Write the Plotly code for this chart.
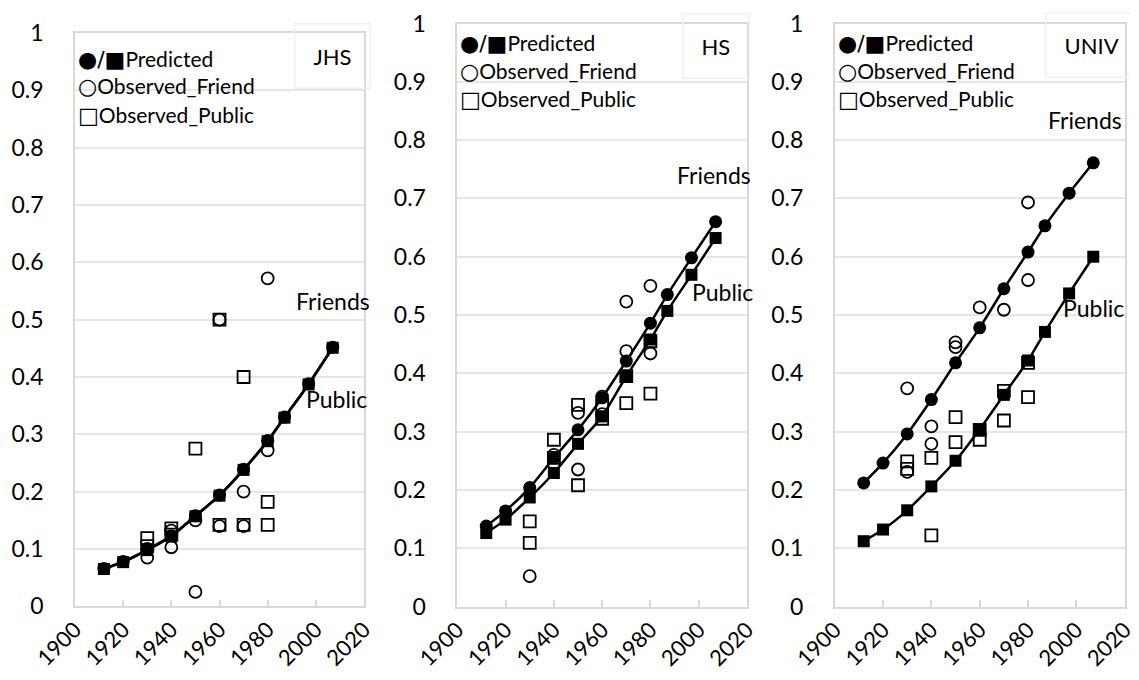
import plotly.graph_objects as go

# ---------------- data ----------------
years_pred = [1912, 1920, 1930, 1940, 1950, 1960, 1970, 1980, 1987, 1997, 2007]

jhs_pred_friend = [0.066, 0.078, 0.099, 0.123, 0.158, 0.194, 0.239, 0.289, 0.330, 0.388, 0.452]
jhs_pred_public = [0.065, 0.077, 0.098, 0.122, 0.157, 0.193, 0.238, 0.288, 0.329, 0.387, 0.451]
jhs_obs_friend_years = [1930, 1930, 1940, 1940, 1950, 1950, 1960, 1960, 1970, 1970, 1980, 1980]
jhs_obs_friend = [0.085, 0.100, 0.103, 0.132, 0.025, 0.150, 0.500, 0.140, 0.200, 0.140, 0.572, 0.272]
jhs_obs_public_years = [1930, 1930, 1940, 1940, 1950, 1960, 1960, 1970, 1970, 1980, 1980]
jhs_obs_public = [0.119, 0.105, 0.136, 0.125, 0.275, 0.500, 0.142, 0.400, 0.142, 0.182, 0.142]

hs_pred_friend = [0.138, 0.164, 0.204, 0.255, 0.303, 0.358, 0.421, 0.486, 0.535, 0.598, 0.660]
hs_pred_public = [0.126, 0.149, 0.187, 0.229, 0.279, 0.326, 0.395, 0.458, 0.507, 0.569, 0.632]
hs_obs_friend_years = [1930, 1940, 1940, 1950, 1950, 1960, 1960, 1970, 1970, 1980, 1980]
hs_obs_friend = [0.052, 0.260, 0.245, 0.332, 0.235, 0.360, 0.330, 0.523, 0.438, 0.550, 0.434]
hs_obs_public_years = [1930, 1930, 1940, 1940, 1950, 1950, 1960, 1960, 1970, 1970, 1980, 1980]
hs_obs_public = [0.146, 0.109, 0.286, 0.255, 0.346, 0.208, 0.345, 0.322, 0.349, 0.395, 0.455, 0.365]

univ_pred_friend = [0.212, 0.246, 0.296, 0.355, 0.418, 0.478, 0.545, 0.608, 0.653, 0.709, 0.761]
univ_pred_public = [0.112, 0.132, 0.165, 0.206, 0.250, 0.304, 0.363, 0.422, 0.471, 0.537, 0.600]
univ_obs_friend_years = [1930, 1930, 1940, 1940, 1950, 1950, 1960, 1970, 1980, 1980]
univ_obs_friend = [0.374, 0.231, 0.309, 0.279, 0.453, 0.445, 0.513, 0.509, 0.693, 0.560]
univ_obs_public_years = [1930, 1930, 1940, 1940, 1950, 1950, 1960, 1960, 1970, 1970, 1980, 1980]
univ_obs_public = [0.249, 0.236, 0.255, 0.122, 0.325, 0.282, 0.303, 0.286, 0.370, 0.319, 0.418, 0.359]

panel_names = ["JHS", "HS", "UNIV"]
x_ticks = [1900, 1920, 1940, 1960, 1980, 2000, 2020]
y_ticks = [0, 0.1, 0.2, 0.3, 0.4, 0.5, 0.6, 0.7, 0.8, 0.9, 1]
y_tick_text = ["0", "0.1", "0.2", "0.3", "0.4", "0.5", "0.6", "0.7", "0.8", "0.9", "1"]
legend_symbols = ["●/■", "○", "□"]
legend_labels = ["Predicted", "Observed_Friend", "Observed_Public"]

panels = [
    (jhs_pred_friend, jhs_pred_public, jhs_obs_friend_years, jhs_obs_friend,
     jhs_obs_public_years, jhs_obs_public),
    (hs_pred_friend, hs_pred_public, hs_obs_friend_years, hs_obs_friend,
     hs_obs_public_years, hs_obs_public),
    (univ_pred_friend, univ_pred_public, univ_obs_friend_years, univ_obs_friend,
     univ_obs_public_years, univ_obs_public),
]

# ---------------- layout geometry (pixels) ----------------
W, H = 1139, 680
x_dom_px = [(67, 356), (449.3, 739), (826.7, 1116.7)]
y_dom_px = [(598.3, 25), (598.5, 15.5), (598.5, 15.5)]
friends_pos = [(2007, 0.533), (2006.5, 0.740), (2003.6, 0.835)]
public_pos = [(2008.5, 0.362), (2010, 0.540), (2006.9, 0.512)]
legend_rows_px = [(51, 78, 107), (35, 63, 91), (35, 63, 91)]
name_pos_px = [(324, 48), (708, 38), (1083, 37)]

FONT = "Lato, 'Open Sans', sans-serif"
SYMFONT = "'DejaVu Sans', sans-serif"
GRID = "#e6e6e6"

fig = go.Figure()

for i, (pf, pp, ofy, of, opy, op) in enumerate(panels):
    xa = "x" if i == 0 else f"x{i+1}"
    ya = "y" if i == 0 else f"y{i+1}"
    fig.add_trace(go.Scatter(
        x=years_pred, y=pp, xaxis=xa, yaxis=ya, mode="lines+markers",
        line=dict(color="black", width=2.5, shape="spline", smoothing=0.6),
        marker=dict(symbol="square", size=12, color="black"),
        showlegend=False, cliponaxis=False))
    fig.add_trace(go.Scatter(
        x=years_pred, y=pf, xaxis=xa, yaxis=ya, mode="lines+markers",
        line=dict(color="black", width=2.5, shape="spline", smoothing=0.6),
        marker=dict(symbol="circle", size=13, color="black"),
        showlegend=False, cliponaxis=False))
    fig.add_trace(go.Scatter(
        x=opy, y=op, xaxis=xa, yaxis=ya, mode="markers",
        marker=dict(symbol="square-open", size=12, color="black",
                    line=dict(width=1.8, color="black")),
        showlegend=False))
    fig.add_trace(go.Scatter(
        x=ofy, y=of, xaxis=xa, yaxis=ya, mode="markers",
        marker=dict(symbol="circle-open", size=12, color="black",
                    line=dict(width=1.8, color="black")),
        showlegend=False))

layout = dict(
    width=W, height=H, template="none",
    paper_bgcolor="white", plot_bgcolor="white",
    margin=dict(l=0, r=0, t=0, b=0),
    showlegend=False,
    font=dict(family=FONT, size=22, color="black"),
)
annotations = []
for i in range(3):
    sx = "" if i == 0 else str(i + 1)
    x0, x1 = x_dom_px[i]
    yb, yt = y_dom_px[i]
    layout["xaxis" + sx] = dict(
        domain=[x0 / W, x1 / W], range=[1900, 2020],
        tickmode="array", tickvals=x_ticks, ticktext=[str(v) for v in x_ticks],
        tickangle=-45, ticks="inside", ticklen=7, tickcolor="#d9d9d9", tickwidth=1.5,
        showgrid=False, zeroline=False, showline=True, linecolor="#d9d9d9",
        linewidth=1.5, mirror=True, automargin=False,
        tickfont=dict(family=FONT, size=22, color="black"),
        ticklabelstandoff=0,
        anchor="y" + sx, fixedrange=True,
    )
    layout["yaxis" + sx] = dict(
        domain=[(H - yb) / H, (H - yt) / H], range=[0, 1],
        tickmode="array", tickvals=y_ticks, ticktext=y_tick_text,
        ticks="", showgrid=True, gridcolor=GRID, gridwidth=1.8,
        zeroline=False, showline=True, linecolor="#d9d9d9", linewidth=1.5,
        mirror=True, automargin=False,
        tickfont=dict(family=FONT, size=23, color="black"),
        ticklabelstandoff=25,
        anchor="x" + sx, fixedrange=True,
    )
    xa = "x" + sx
    ya = "y" + sx
    annotations.append(dict(x=friends_pos[i][0], y=friends_pos[i][1], xref=xa, yref=ya,
                            text="Friends", showarrow=False,
                            font=dict(family=FONT, size=23, color="black")))
    annotations.append(dict(x=public_pos[i][0], y=public_pos[i][1], xref=xa, yref=ya,
                            text="Public", showarrow=False,
                            font=dict(family=FONT, size=23, color="black")))
    for row, sym, lab in zip(legend_rows_px[i], legend_symbols, legend_labels):
        txt = (f'<span style="font-family:{SYMFONT};font-size:22px">{sym}</span>'
               f'{lab}')
        annotations.append(dict(x=(x0 + 1) / W, y=(H - row) / H, xref="paper", yref="paper",
                                text=txt, showarrow=False, xanchor="left", yanchor="middle",
                                font=dict(family=FONT, size=21, color="black")))
    nx, ny = name_pos_px[i]
    annotations.append(dict(x=nx / W, y=(H - ny) / H, xref="paper", yref="paper",
                            text=panel_names[i], showarrow=False,
                            xanchor="center", yanchor="middle",
                            bordercolor="#f0f0f0", borderwidth=1.5, borderpad=18,
                            font=dict(family=FONT, size=22, color="black")))

layout["annotations"] = annotations
fig.update_layout(**layout)
fig.write_html("out.html")
